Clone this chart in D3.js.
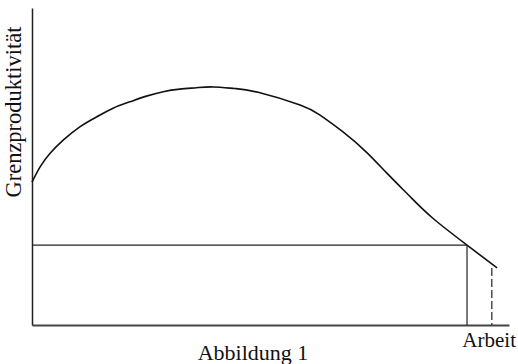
<!DOCTYPE html>
<html>
<head>
<meta charset="utf-8">
<script src="https://cdn.jsdelivr.net/npm/d3@7"></script>
<style>
  body { margin: 0; background: #fff; }
  text { font-family: "Liberation Serif", "Times New Roman", serif; fill: #111; }
</style>
</head>
<body>
<div id="chart"></div>
<script>
// Grenzproduktivitaet der Arbeit (curve, arbitrary units 0-100)
var arbeit = [0, 1.7, 3.8, 6.6, 10.1, 13.6, 17.0, 20.5, 24.0, 27.5, 31.0, 34.5, 38.0, 42.5, 47.4, 56.2, 60.4, 65.2, 70.2, 74.4, 79.2, 84.1, 91.2, 97.5];
var grenzprodukt = [45.1, 49.9, 54.2, 58.4, 62.6, 65.7, 68.4, 70.4, 72.2, 73.6, 74.4, 74.85, 75.1, 74.6, 73.4, 69.4, 66.2, 60.9, 54.4, 47.9, 40.6, 33.6, 25.2, 18.0];

// Lohnlinie and the two marked employment levels
var lohn = 25.2;
var beschaeftigung = [91.2, 96.4];
var beschaeftigungY = [25.2, 18.0];

var labels = { x: "Arbeit", y: "Grenzproduktivität", title: "Abbildung 1" };

var margin = {top: 8, right: 9, bottom: 39, left: 32},
    width = 518 - margin.left - margin.right,
    height = 364 - margin.top - margin.bottom;

var svg = d3.select("#chart")
    .append("svg")
    .attr("width", 518)
    .attr("height", 364)
    .append("g")
    .attr("transform", "translate(" + margin.left + "," + margin.top + ")");

var x = d3.scaleLinear().domain([0, 100]).range([0, width]);
var y = d3.scaleLinear().domain([0, 100]).range([height, 0]);

// axes: plain lines, no ticks
svg.append("g")
    .attr("transform", "translate(0," + height + ")")
    .call(d3.axisBottom(x).tickValues([]).tickSizeOuter(0))
    .select(".domain")
    .attr("stroke", "#444")
    .attr("stroke-width", 2);

svg.append("g")
    .call(d3.axisLeft(y).tickValues([]).tickSizeOuter(0))
    .select(".domain")
    .attr("stroke", "#222")
    .attr("stroke-width", 1.5);

// the curve
var pts = arbeit.map(function(d, i) { return [d, grenzprodukt[i]]; });
var line = d3.line()
    .x(function(d) { return x(d[0]); })
    .y(function(d) { return y(d[1]); })
    .curve(d3.curveNatural);

svg.append("path")
    .datum(pts)
    .attr("fill", "none")
    .attr("stroke", "#111")
    .attr("stroke-width", 1.6)
    .attr("d", line);

// horizontal line
svg.append("line")
    .attr("x1", x(0)).attr("x2", x(beschaeftigung[0]))
    .attr("y1", y(lohn)).attr("y2", y(lohn))
    .attr("stroke", "#222")
    .attr("stroke-width", 1.2);

// vertical solid + dashed
svg.append("line")
    .attr("x1", x(beschaeftigung[0])).attr("x2", x(beschaeftigung[0]))
    .attr("y1", y(beschaeftigungY[0])).attr("y2", y(0))
    .attr("stroke", "#222")
    .attr("stroke-width", 1.2);

svg.append("line")
    .attr("x1", x(beschaeftigung[1])).attr("x2", x(beschaeftigung[1]))
    .attr("y1", y(beschaeftigungY[1])).attr("y2", y(0))
    .attr("stroke", "#222")
    .attr("stroke-width", 1.2)
    .attr("stroke-dasharray", "8,3");

// labels
svg.append("text")
    .attr("x", width + 7)
    .attr("y", height + 22)
    .attr("text-anchor", "end")
    .style("font-size", "21px")
    .text(labels.x);

svg.append("text")
    .attr("x", 221)
    .attr("y", height + 35)
    .attr("text-anchor", "middle")
    .style("font-size", "22px")
    .text(labels.title);

svg.append("text")
    .attr("transform", "translate(-11," + 104 + ") rotate(-90)")
    .attr("text-anchor", "middle")
    .style("font-size", "22.5px")
    .text(labels.y);
</script>
</body>
</html>
